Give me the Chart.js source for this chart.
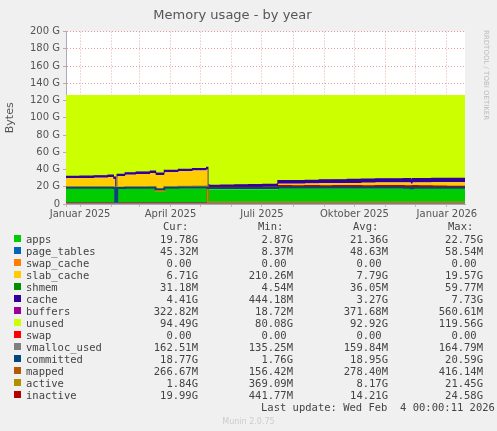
<!DOCTYPE html>
<html>
<head>
<meta charset="utf-8">
<script src="https://cdn.jsdelivr.net/npm/chart.js@4"></script>
<style>
body { margin:0; background:#f0f0f0; width:497px; height:431px; overflow:hidden; position:relative; font-family:"DejaVu Sans Mono", monospace; }
#wrap { position:absolute; left:0; top:0; width:497px; height:222px; }
#legend { position:absolute; left:0; top:220px; width:497px; font-size:10.5px; color:#444; }
.row { position:absolute; height:12px; line-height:12px; white-space:pre; }
.sw { position:absolute; width:7px; height:7px; top:2px; }
.num { position:absolute; text-align:right; width:90px; }
#rrd { position:absolute; left:482px; top:30px; font-family:"DejaVu Sans"; font-size:7px; color:#bbb; writing-mode:vertical-rl; }
#munin { position:absolute; left:0; width:497px; top:417px; text-align:center; font-family:"DejaVu Sans"; font-size:8px; color:#ccc; }
</style>
</head>
<body>
<div id="wrap"><canvas id="myChart" width="497" height="222"></canvas></div>
<div id="rrd">RRDTOOL / TOBI OETIKER</div>
<div id="legend"></div>
<div id="munin">Munin 2.0.75</div>
<script>
// days since 2025-01-01, values in G
var days       = [-14, 0, 14, 28, 33, 35, 37, 45, 56, 70, 75, 84, 98, 112, 126, 127, 129, 140, 154, 168, 182, 196, 197, 210, 224, 238, 252, 266, 280, 294, 308, 322, 329, 331, 336, 350, 364, 383];
var apps       = [18.3,18.3,18.3,18.3,18.0, 3.0,18.0,18.3,18.3,18.3,16.5,18.3,18.3,18.3,18.3,17.2,17.2,17.2,17.2,17.2,17.2,17.2,18.4,18.4,18.4,18.4,18.3,18.4,18.4,18.4,18.4,18.3,17.5,18.3,18.3,18.4,18.4,18.4];
var pageTables = [0.05,0.05,0.05,0.05,0.05,0.01,0.05,0.05,0.05,0.05,0.05,0.05,0.05,0.05,0.05,0.05,0.05,0.05,0.05,0.05,0.05,0.05,0.05,0.05,0.05,0.05,0.05,0.05,0.05,0.05,0.05,0.05,0.05,0.05,0.05,0.05,0.05,0.05];
var swapCache  = [0,0,0,0,0,0,0,0,0,0,0,0,0,0,0,0,0,0,0,0,0,0,0,0,0,0,0,0,0,0,0,0,0,0,0,0,0,0];
var slabCache  = [11.6,11.8,12.2,13.0,11.0,12.0,14.0,15.5,16.5,17.5,17.0,18.5,19.5,20.5,22.0, 2.0, 1.8, 2.0, 2.2, 2.4, 2.6, 2.8, 5.0, 5.0, 5.3, 5.6, 5.8, 6.0, 6.2, 6.4, 6.5, 6.6, 6.0, 6.6, 6.7, 6.8, 6.8, 6.7];
var shmem      = [0.03,0.03,0.03,0.03,0.03,0.03,0.03,0.03,0.03,0.03,0.03,0.03,0.03,0.03,0.03,0.03,0.03,0.03,0.03,0.03,0.03,0.03,0.03,0.03,0.03,0.03,0.03,0.03,0.03,0.03,0.03,0.03,0.03,0.03,0.03,0.03,0.03,0.03];
var cache      = [2.0, 2.0, 2.0, 2.0, 2.0, 2.0, 2.0, 2.0, 2.0, 2.0, 2.0, 2.0, 2.0, 2.0, 2.0, 2.5, 2.5, 2.5, 2.6, 2.6, 2.7, 2.7, 3.5, 3.5, 3.6, 3.7, 3.8, 3.9, 4.0, 4.0, 4.1, 4.2, 4.2, 4.3, 4.3, 4.4, 4.4, 4.41];
var buffers    = [0.4, 0.4, 0.4, 0.4, 0.4, 0.4, 0.4, 0.4, 0.4, 0.4, 0.4, 0.4, 0.4, 0.4, 0.4, 0.3, 0.3, 0.3, 0.3, 0.3, 0.3, 0.3, 0.35,0.35,0.35,0.35,0.35,0.35,0.35,0.35,0.35,0.35,0.35,0.35,0.35,0.35,0.32,0.32];
var totalMem   = 126.5;
var unused     = days.map(function (d, i) {
    return totalMem - apps[i] - pageTables[i] - swapCache[i] - slabCache[i] - shmem[i] - cache[i] - buffers[i];
});
var swap       = [0,0,0,0,0,0,0,0,0,0,0,0,0,0,0,0,0,0,0,0,0,0,0,0,0,0,0,0,0,0,0,0,0,0,0,0,0,0];
var vmalloc    = [0.16,0.16,0.16,0.16,0.16,0.16,0.16,0.16,0.16,0.16,0.16,0.16,0.16,0.16,0.16,0.16,0.16,0.16,0.16,0.16,0.16,0.16,0.16,0.16,0.16,0.16,0.16,0.16,0.16,0.16,0.16,0.16,0.16,0.16,0.16,0.16,0.16,0.16];
var committed  = [18.8,18.8,18.8,18.8,18.6, 1.8,18.6,18.8,18.8,18.9,17.0,18.9,19.0,19.0,19.0,18.5,18.5,18.5,18.6,18.6,18.6,18.6,19.0,19.0,19.0,19.0,19.0,19.0,19.0,19.0,19.0,18.9,18.3,18.9,18.8,18.8,18.8,18.77];
var mapped     = [0.3, 0.3, 0.3, 0.3, 0.3, 0.2, 0.3, 0.3, 0.3, 0.3, 0.3, 0.3, 0.3, 0.3, 0.3, 0.25,0.25,0.25,0.25,0.25,0.25,0.25,0.27,0.27,0.27,0.27,0.27,0.27,0.27,0.27,0.27,0.27,0.27,0.27,0.27,0.27,0.27,0.27];
var active     = [19.5,19.5,19.5,19.5,19.0, 0.5,19.0,19.5,19.5,19.8,15.0,19.8,20.0,20.2,20.5, 1.8, 1.8, 1.8, 1.8, 1.8, 1.8, 1.8, 1.8, 1.8, 1.8, 1.8, 1.8, 1.8, 1.8, 1.8, 1.8, 1.8, 1.8, 1.8, 1.8, 1.8, 1.8, 1.84];
var inactive   = [0.8, 0.8, 0.8, 0.8, 0.8, 0.5, 0.8, 0.8, 0.8, 0.8, 0.8, 0.8, 0.8, 0.8, 0.8,19.0,19.0,19.0,19.0,19.0,19.0,19.0,21.0,20.5,20.8,20.5,20.8,21.0,20.5,21.0,20.8,20.5,19.0,20.8,20.5,20.3,20.0,19.99];

var monthTicks = [-14, 0, 31, 59, 90, 120, 151, 181, 212, 243, 273, 304, 334, 365];
var quarterLabels = { 0: 'Januar 2025', 90: 'April 2025', 181: 'Juli 2025', 273: 'Oktober 2025', 365: 'Januar 2026' };

var legendNames = ['apps','page_tables','swap_cache','slab_cache','shmem','cache','buffers','unused','swap','vmalloc_used','committed','mapped','active','inactive'];
var legendColors = ['#00CC00','#0066B3','#FF8000','#FFCC00','#008F00','#330099','#990099','#CCFF00','#FF0000','#808080','#00487D','#B35A00','#B38F00','#B30000'];
var legendCur = ['19.78G','45.32M','0.00 ','6.71G','31.18M','4.41G','322.82M','94.49G','0.00 ','162.51M','18.77G','266.67M','1.84G','19.99G'];
var legendMin = ['2.87G','8.37M','0.00 ','210.26M','4.54M','444.18M','18.72M','80.08G','0.00 ','135.25M','1.76G','156.42M','369.09M','441.77M'];
var legendAvg = ['21.36G','48.63M','0.00 ','7.79G','36.05M','3.27G','371.68M','92.92G','0.00 ','159.84M','18.95G','278.40M','8.17G','14.21G'];
var legendMax = ['22.75G','58.54M','0.00 ','19.57G','59.77M','7.73G','560.61M','119.56G','0.00 ','164.79M','20.59G','416.14M','21.45G','24.58G'];

function pts(arr) {
    return days.map(function (d, i) { return { x: d, y: arr[i] }; });
}

var stacked = [apps, pageTables, swapCache, slabCache, shmem, cache, buffers, unused, swap];
var datasets = [];
stacked.forEach(function (arr, i) {
    datasets.push({
        label: legendNames[i], data: pts(arr), stack: 'mem', yAxisID: 'y',
        backgroundColor: legendColors[i], borderColor: legendColors[i], borderWidth: (i === 5 ? 1.5 : 0),
        fill: i === 0 ? 'origin' : '-1', pointRadius: 0, stepped: true, order: 1
    });
});
[vmalloc, committed, mapped, active, inactive].forEach(function (arr, j) {
    var i = j + 9;
    datasets.push({
        label: legendNames[i], data: pts(arr), yAxisID: 'y2',
        borderColor: legendColors[i], backgroundColor: legendColors[i], borderWidth: 2,
        fill: false, pointRadius: 0, stepped: true, order: 0
    });
});

var dotted = function (c) { return c.tick.value % 20 === 0 ? 'rgba(225,120,120,0.75)' : 'rgba(230,160,160,0.6)'; };

var ctx = document.getElementById('myChart').getContext('2d');
var myChart = new Chart(ctx, {
    type: 'line',
    data: { datasets: datasets },
    options: {
        animation: false, responsive: false,
        layout: { padding: { top: 0, right: 32, bottom: 0, left: 0 } },
        plugins: {
            legend: { display: false }, tooltip: { enabled: false },
            title: { display: true, text: 'Memory usage - by year', color: '#555',
                font: { family: 'DejaVu Sans', size: 13, weight: 'normal' }, padding: { top: 8, bottom: 8 } }
        },
        scales: {
            x: {
                type: 'linear', min: -14, max: 383,
                afterBuildTicks: function (s) { s.ticks = monthTicks.map(function (v) { return { value: v }; }); },
                ticks: { autoSkip: false, maxRotation: 0, color: '#555', padding: 1, font: { family: 'DejaVu Sans', size: 10 },
                    callback: function (v) { return quarterLabels[v] || ''; } },
                grid: { color: 'rgba(225,140,140,0.7)', tickLength: 3 },
                border: { color: '#aab', dash: [1, 2] },
                afterFit: function (s) { s.height = 18; }
            },
            y: {
                stacked: true, min: 0, max: 200,
                ticks: { stepSize: 10, color: '#555', font: { family: 'DejaVu Sans', size: 10 },
                    callback: function (v) { return v % 20 === 0 ? (v === 0 ? '0' : v + ' G') : ''; } },
                grid: { color: dotted, tickLength: 3 },
                border: { color: '#aab', dash: [1, 2] },
                title: { display: true, text: 'Bytes', color: '#555', font: { family: 'DejaVu Sans', size: 11 } },
                afterFit: function (s) { s.width = 66; }
            },
            y2: { display: false, min: 0, max: 200 }
        }
    },
    plugins: [{
        id: 'bg',
        beforeDraw: function (c) {
            var a = c.chartArea, g = c.ctx;
            g.save(); g.fillStyle = '#fff'; g.fillRect(a.left, a.top, a.right - a.left, a.bottom - a.top); g.restore();
        }
    }]
});

// legend table
var lg = document.getElementById('legend');
var colX = [108, 203, 298, 393];
var head = ['Cur:', 'Min:', 'Avg:', 'Max:'];
var html = '';
head.forEach(function (h, k) {
    html += '<div class="row" style="top:0px;left:' + (colX[k] + 55) + 'px">' + h + '</div>';
});
legendNames.forEach(function (n, i) {
    var top = 13 + i * 12;
    html += '<div class="sw" style="left:14px;top:' + (top + 2) + 'px;background:' + legendColors[i] + '"></div>';
    html += '<div class="row" style="top:' + top + 'px;left:26px">' + n + '</div>';
    [legendCur, legendMin, legendAvg, legendMax].forEach(function (col, k) {
        html += '<div class="row num" style="top:' + top + 'px;left:' + colX[k] + 'px">' + col[i] + '</div>';
    });
});
html += '<div class="row" style="top:181px;left:261px">Last update: Wed Feb  4 00:00:11 2026</div>';
lg.innerHTML = html;
</script>
</body>
</html>
